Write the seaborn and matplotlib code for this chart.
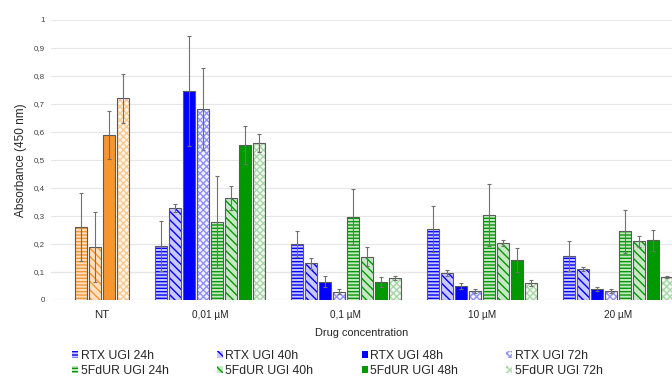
import numpy as np
import pandas as pd
import matplotlib
matplotlib.use("Agg")
import matplotlib.pyplot as plt
from matplotlib.patches import Patch, Rectangle
import seaborn as sns

# data
concs = ['NT', '0,01 µM', '0,1 µM', '10 µM', '20 µM']
series = ['RTX UGI 24h', 'RTX UGI 40h', 'RTX UGI 48h', 'RTX UGI 72h',
          '5FdUR UGI 24h', '5FdUR UGI 40h', '5FdUR UGI 48h', '5FdUR UGI 72h']

# NT (untreated) only has 4 bars, drawn in the 5FdUR slots
nt_vals = [0.261, 0.190, 0.589, 0.720]
nt_err = [0.122, 0.125, 0.087, 0.088]

rtx24 = [0.193, 0.200, 0.253, 0.157]
rtx40 = [0.328, 0.131, 0.096, 0.110]
rtx48 = [0.746, 0.065, 0.050, 0.039]
rtx72 = [0.682, 0.030, 0.032, 0.033]
fd24 = [0.279, 0.298, 0.303, 0.245]
fd40 = [0.364, 0.155, 0.203, 0.210]
fd48 = [0.554, 0.065, 0.143, 0.213]
fd72 = [0.561, 0.078, 0.060, 0.083]

rtx24_err = [0.090, 0.047, 0.083, 0.054]
rtx40_err = [0.015, 0.020, 0.010, 0.008]
rtx48_err = [0.196, 0.020, 0.010, 0.007]
rtx72_err = [0.146, 0.009, 0.008, 0.008]
fd24_err = [0.164, 0.100, 0.110, 0.076]
fd40_err = [0.043, 0.035, 0.011, 0.019]
fd48_err = [0.068, 0.018, 0.042, 0.037]
fd72_err = [0.032, 0.006, 0.011, 0.004]

vals = [rtx24, rtx40, rtx48, rtx72, fd24, fd40, fd48, fd72]
errs = [rtx24_err, rtx40_err, rtx48_err, rtx72_err, fd24_err, fd40_err, fd48_err, fd72_err]

rows = []
for i, s in enumerate(series):
    for j, c in enumerate(concs[1:]):
        rows.append({'conc': c, 'series': s, 'value': vals[i][j], 'err': errs[i][j]})
    if i >= 4:
        rows.append({'conc': 'NT', 'series': s, 'value': nt_vals[i - 4], 'err': nt_err[i - 4]})
df = pd.DataFrame(rows)

blue = '#0000FF'
green = '#009A00'
orange = '#F7952F'
light = {blue: '#C8C8FF', green: '#C6E8C6', orange: '#FDE0C0'}
pale = {blue: '#F4F4FF', green: '#F2FAF2', orange: '#FFF6EC'}
dots = {blue: '#9090FF', green: '#A8D8A8', orange: '#FBC890'}
hatches = ['-----', '\\\\\\\\', '', 'xxxxx']

def style_for(color, k):
    # facecolor, hatch colour, hatch
    if k == 2:
        return color, color, ''
    if k == 3:
        return pale[color], dots[color], hatches[k]
    return light[color], color, hatches[k]

sns.set_style("white")
plt.rcParams['font.family'] = ['Liberation Sans', 'DejaVu Sans']
plt.rcParams['hatch.linewidth'] = 1.0

fig = plt.figure(figsize=(6.72, 3.76), dpi=100)
ax = fig.add_axes([51 / 672, 76 / 376, 1 - 51 / 672, 280 / 376])

sns.barplot(data=df, x='conc', y='value', hue='series', order=concs, hue_order=series,
            width=8 * 14 / 136, gap=0.1, errorbar=None, legend=False, ax=ax)

nt_centers = []
bar_groups = list(ax.containers)[:8]
for i, cont in enumerate(bar_groups):
    k = i % 4
    base = blue if i < 4 else green
    sub = df[df['series'] == series[i]].set_index('conc')
    for bar in cont:
        cx = bar.get_x() + bar.get_width() / 2
        cat = concs[int(round(cx))]
        color = orange if cat == 'NT' else base
        if cat == 'NT':
            nt_centers.append(cx)
        fc, hc, h = style_for(color, k)
        bar.set_facecolor(fc)
        bar.set_edgecolor(hc)
        bar.set_hatch(h)
        bar.set_linewidth(0)
        ax.add_patch(Rectangle((bar.get_x(), 0), bar.get_width(), bar.get_height(),
                               fill=False, edgecolor='#5a5a5a', linewidth=0.8,
                               zorder=bar.get_zorder() + 0.1))
        ax.errorbar(cx, sub.loc[cat, 'value'], yerr=sub.loc[cat, 'err'], fmt='none',
                    ecolor='#707070', elinewidth=0.8, capsize=1.5, capthick=0.8, zorder=5)

ax.set_xlim(-0.169, 4.397)
ax.set_ylim(0, 1)
ax.set_yticks(np.arange(0, 1.01, 0.1))
ax.set_yticklabels(['0'] + [f'0,{d}' for d in range(1, 10)] + ['1'])
ax.yaxis.grid(True, color='#E6E6E6', linewidth=0.8)
ax.set_axisbelow(True)
for sp in ax.spines.values():
    sp.set_visible(False)
ax.axhline(0, color='#D9D9D9', linewidth=0.8, zorder=0)
ax.axhline(0.1, color='#CFCFCF', linewidth=0.8, zorder=0)
ax.tick_params(axis='y', length=0, pad=4.5, labelsize=5.8, labelcolor='#404040')
ax.tick_params(axis='x', length=0, pad=7, labelsize=7.2, labelcolor='#262626')
# NT label sits under its four bars
ax.set_xticks([np.mean(nt_centers), 1, 2, 3, 4])
ax.set_xticklabels(concs)
ax.get_xticklabels()[0].set_fontsize(8.2)
ax.set_xlabel('Drug concentration', fontsize=7.9, color='#262626', labelpad=6)
ax.set_ylabel('Absorbance (450 nm)', fontsize=8.5, color='#262626', labelpad=5)

handles = []
for i, s in enumerate(series):
    fc, hc, h = style_for(blue if i < 4 else green, i % 4)
    handles.append(Patch(facecolor=fc, edgecolor=hc, hatch=h, linewidth=0, label=s))
order = [0, 4, 1, 5, 2, 6, 3, 7]
fig.legend([handles[o] for o in order], [series[o] for o in order], ncol=4,
           loc='center left', bbox_to_anchor=(66 / 672, 1 - 363.5 / 376), frameon=False,
           fontsize=8.8, handlelength=0.5, handleheight=0.5, handletextpad=0.2,
           columnspacing=3.95, labelspacing=0.28, borderpad=0.0)

fig.savefig('out.png', dpi=100)
